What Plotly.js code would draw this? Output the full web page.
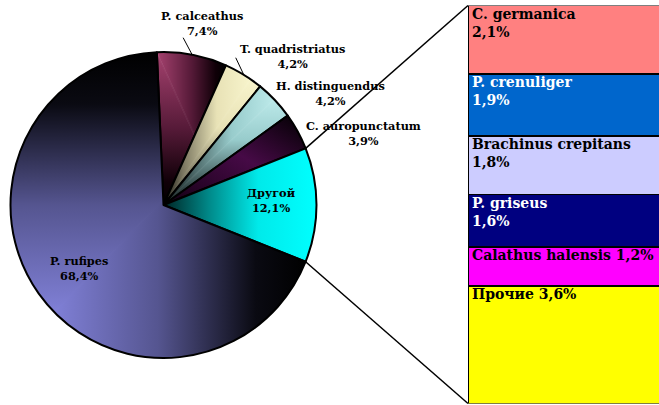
<!DOCTYPE html>
<html><head><meta charset="utf-8">
<script src="https://cdn.plot.ly/plotly-3.0.1.min.js"></script>
<style>html,body{margin:0;padding:0;background:#fff;} #chart{width:659px;height:405px;}</style>
</head><body><div id="chart"></div>
<script>
// ---- data ----
const pieLabels = ['P. calceathus','T. quadristriatus','H. distinguendus','C. auropunctatum','Другой','P. rufipes'];
const pieValues = [7.4, 4.2, 4.2, 3.9, 12.1, 68.4];
const barLabels = ['C. germanica','P. crenuliger','Brachinus crepitans','P. griseus','Calathus halensis','Прочие'];
const barValues = [2.1, 1.9, 1.8, 1.6, 1.2, 3.6];
const barLabelSep = ['<br>','<br>','<br>','<br>',' ',' '];

// ---- styling / geometry ----
const W = 659, H = 405;
const FONT = 'DejaVu Serif';
const fmt = v => v.toFixed(1).replace('.', ',') + '%';
const pieDomX = [10/W, 317/W], pieDomY = [1-358/H, 1-52/H];
const barDomX = [468/W, 1], barDomY = [1-403.5/H, 1-5.5/H];
const ROT = -2.5;
const pieBase = ['#6a2448','#e6e0b4','#8ec4c4','#300830','#00c8c8','#50508a'];
const barColors = ['#ff8080','#0066cc','#ccccff','#000080','#ff00ff','#ffff00'];
const barTextColors = ['#000','#fff','#000','#fff','#000','#000'];
const labelPos = [[202,23],[292,57],[330,93],[363,133],[271,200],[79,268]];
const leaderOff = {0:[-9,-17], 1:[-8,-17]};

const pieTotal = pieValues.reduce((a,b)=>a+b,0);
const barTotal = barValues.reduce((a,b)=>a+b,0);
const cxPx = (pieDomX[0]+pieDomX[1])/2*W, cyPx = (1-(pieDomY[0]+pieDomY[1])/2)*H;
const R = Math.min((pieDomX[1]-pieDomX[0])*W, (pieDomY[1]-pieDomY[0])*H)/2;
const ang = frac => (ROT + 360*frac)*Math.PI/180;
const edge = (a, r) => [cxPx + r*Math.sin(a), cyPx - r*Math.cos(a)];
const toPX = x => x/W, toPY = y => 1 - y/H;

const cum = [];
pieValues.reduce((s,v,i)=>{cum[i]=s; return s+v;}, 0);

const traces = [{
  type:'pie', labels: pieLabels, values: pieValues, sort:false, direction:'clockwise',
  rotation: ROT, textinfo:'none', hoverinfo:'none',
  domain:{x:pieDomX, y:pieDomY},
  marker:{colors: pieBase, line:{color:'#000', width:2}},
  showlegend:false
}];
for (let i = barValues.length-1; i >= 0; i--) {
  traces.push({type:'bar', x:[0], y:[barValues[i]], width:[1.2], offset:[-0.5], hoverinfo:'none',
    marker:{color:barColors[i], line:{color:'#000', width:1.5}}, showlegend:false});
}

const annotations = [];
pieLabels.forEach((n,i)=>{
  annotations.push({xref:'paper', yref:'paper', x:toPX(labelPos[i][0]), y:toPY(labelPos[i][1]),
    xanchor:'center', yanchor:'middle', showarrow:false, align:'center',
    text: n + '<br>' + fmt(pieValues[i]), font:{family:FONT, size:11.3, color:'#000', weight:'bold'}});
});
let segTop = barTotal;
barLabels.forEach((n,i)=>{
  annotations.push({xref:'x', yref:'y', x:-0.5, y:segTop, xanchor:'left', yanchor:'top',
    xshift:2, yshift:2, showarrow:false, align:'left',
    text: n + barLabelSep[i] + fmt(barValues[i]),
    font:{family:FONT, size:14, color:barTextColors[i], weight:'bold'}});
  segTop -= barValues[i];
});

const shapes = [];
const iOther = pieLabels.indexOf('Другой');
const pS = edge(ang(cum[iOther]/pieTotal), R), pE = edge(ang((cum[iOther]+pieValues[iOther])/pieTotal), R);
const bx = barDomX[0]*W, bTop = (1-barDomY[1])*H, bBot = (1-barDomY[0])*H;
[[pS,[bx,bTop]],[pE,[bx,bBot]]].forEach(([a,b])=>{
  shapes.push({type:'line', xref:'paper', yref:'paper', x0:toPX(a[0]), y0:toPY(a[1]), x1:toPX(b[0]), y1:toPY(b[1]),
    line:{color:'#000', width:1.5}});
});
Object.keys(leaderOff).forEach(k=>{
  const i = +k;
  const p = edge(ang((cum[i]+pieValues[i]/2)/pieTotal), R);
  const o = leaderOff[k];
  shapes.push({type:'line', xref:'paper', yref:'paper', x0:toPX(p[0]), y0:toPY(p[1]), x1:toPX(p[0]+o[0]), y1:toPY(p[1]+o[1]),
    line:{color:'#000', width:1}});
});

const layout = {
  width:W, height:H, margin:{l:0,r:0,t:0,b:0}, paper_bgcolor:'#fff', plot_bgcolor:'rgba(0,0,0,0)',
  showlegend:false, barmode:'stack', bargap:0,
  xaxis:{domain:barDomX, range:[-0.5,0.5], visible:false, fixedrange:true},
  yaxis:{domain:barDomY, range:[0,barTotal], visible:false, fixedrange:true},
  annotations, shapes
};

Plotly.newPlot('chart', traces, layout, {staticPlot:true, displayModeBar:false}).then(gd=>{
  const NS = 'http://www.w3.org/2000/svg';
  const svg = gd.querySelector('svg.main-svg');
  let defs = svg.querySelector('defs');
  if (!defs) { defs = document.createElementNS(NS,'defs'); svg.insertBefore(defs, svg.firstChild); }
  function lin(id, x1,y1,x2,y2, stops){
    const g = document.createElementNS(NS,'linearGradient');
    g.setAttribute('id',id);
    g.setAttribute('x1',x1); g.setAttribute('y1',y1); g.setAttribute('x2',x2); g.setAttribute('y2',y2);
    stops.forEach(([o,c])=>{const s=document.createElementNS(NS,'stop'); s.setAttribute('offset',o); s.setAttribute('stop-color',c); g.appendChild(s);});
    defs.appendChild(g);
    return 'url(#'+id+')';
  }
  function box(id, cx0, cy0, stops){
    const gh = lin(id+'h', cx0, 0, 1-cx0, 0, stops);
    const gv = lin(id+'v', 0, cy0, 0, 1-cy0, stops);
    const p = document.createElementNS(NS,'pattern');
    p.setAttribute('id',id);
    p.setAttribute('patternUnits','objectBoundingBox');
    p.setAttribute('patternContentUnits','objectBoundingBox');
    p.setAttribute('width','1'); p.setAttribute('height','1');
    const A=[cx0,cy0], C=[1-cx0,1-cy0], B1=[1-cx0,cy0], B2=[cx0,1-cy0];
    [[[A,B1,C],gh],[[A,B2,C],gv]].forEach(([pts,f])=>{
      const pg = document.createElementNS(NS,'polygon');
      pg.setAttribute('points', pts.map(q=>q.join(',')).join(' '));
      pg.setAttribute('fill', f);
      pg.setAttribute('stroke', f); pg.setAttribute('stroke-width','0.004');
      p.appendChild(pg);
    });
    defs.appendChild(p);
    return 'url(#'+id+')';
  }
  const fills = [
    box('gcal', 0, 0, [[0,'#a6426f'],[0.5,'#561a38'],[0.85,'#100008'],[1,'#000']]),
    box('gtq', 1, 0, [[0,'#fcf9d2'],[0.45,'#e8e2b6'],[0.8,'#7a7660'],[1,'#1a1a14']]),
    box('ghd', 1, 0, [[0,'#c8f3f3'],[0.45,'#98cccc'],[0.8,'#405858'],[1,'#0a1010']]),
    lin('gca', 0, 1, 1, 0, [[0,'#120012'],[0.55,'#460a46'],[1,'#000']]),
    lin('gdr', 0, 0, 1, 0, [[0,'#002424'],[0.3,'#008a8a'],[0.62,'#00eaea'],[1,'#00ffff']]),
    box('grf', 0, 1, [[0,'#9292f4'],[0.5,'#555590'],[0.83,'#0a0a12'],[1,'#000']])
  ];
  gd.querySelectorAll('g.slice path.surface').forEach((p,i)=>{ if (fills[i]) p.style.fill = fills[i]; });
});
</script>
</body></html>
